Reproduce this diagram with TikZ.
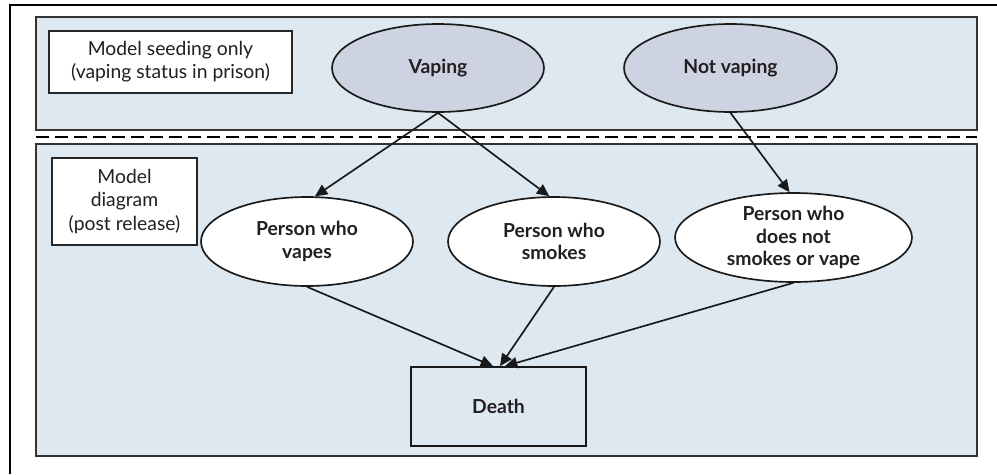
\documentclass[tikz,border=0pt]{standalone}
\usepackage{fontspec}
\setmainfont{Lato}
\usetikzlibrary{shapes.geometric,arrows.meta}
\definecolor{panelblue}{RGB}{221,232,240}
\definecolor{seedfill}{RGB}{205,211,225}
\definecolor{inkgrey}{RGB}{35,31,32}
\begin{document}
\begin{tikzpicture}[x=.02cm,y=-.02cm,text=inkgrey,font=\fontsize{11}{13.2}\selectfont,
  panel/.style={fill=panelblue,draw=black!80,line width=1.1pt},
  tag/.style={draw=black!85,fill=white,line width=1pt,align=center,inner sep=0pt},
  state/.style={ellipse,draw=black!90,line width=.95pt,align=center,inner sep=0pt,font=\fontsize{11}{12.6}\selectfont\bfseries},
  flow/.style={draw=black!90,line width=.95pt,-{Triangle[length=7pt,width=6.4pt]}}]
\useasboundingbox (0,0) rectangle (997,474);
\fill[white] (0,0) rectangle (997,474);
\draw[line width=1.1pt] (10,474) -- (10,5) -- (997,5);
\path[panel] (36,17) rectangle (977,130);
\draw[line width=1.1pt,dash pattern=on 7.4pt off 3.4pt] (36,137) -- (977,137);
\path[panel] (36,144) rectangle (977,456);
\node[tag,minimum width=4.86cm,minimum height=1.24cm] (seedtag) at (170.5,62) {Model seeding only\\(vaping status in prison)};
\node[tag,minimum width=2.9cm,minimum height=1.74cm] (modeltag) at (124.5,201.5) {Model\\diagram\\(post release)};
\node[state,fill=seedfill,minimum width=4.24cm,minimum height=1.76cm] (vaping) at (438,68) {Vaping};
\node[state,fill=seedfill,minimum width=4.26cm,minimum height=1.76cm] (notvaping) at (730.5,68) {Not vaping};
\node[state,fill=white,minimum width=4.24cm,minimum height=1.78cm] (vapes) at (307,241.5) {Person who\\vapes};
\node[state,fill=white,minimum width=4.24cm,minimum height=1.78cm] (smokes) at (554,241.5) {Person who\\smokes};
\node[state,fill=white,minimum width=4.74cm,minimum height=1.78cm] (nonuser) at (793.5,237.5) {Person who\\does not\\smokes or vape};
\node[draw=black!90,fill=panelblue,line width=1pt,minimum width=3.5cm,minimum height=1.58cm,font=\fontsize{11}{13.2}\selectfont\bfseries] (death) at (498.5,406.5) {Death};
\draw[flow] (vaping.south) -- (vapes.80);
\draw[flow] (vaping.south) -- (smokes.96);
\draw[flow] (notvaping.south) -- (nonuser.95);
\draw[flow] (vapes.south) -- ([xshift=-.11cm]death.north);
\draw[flow] (smokes.south) -- ([xshift=.03cm]death.north);
\draw[flow] (nonuser.south) -- ([xshift=.13cm]death.north);
\end{tikzpicture}
\end{document}
